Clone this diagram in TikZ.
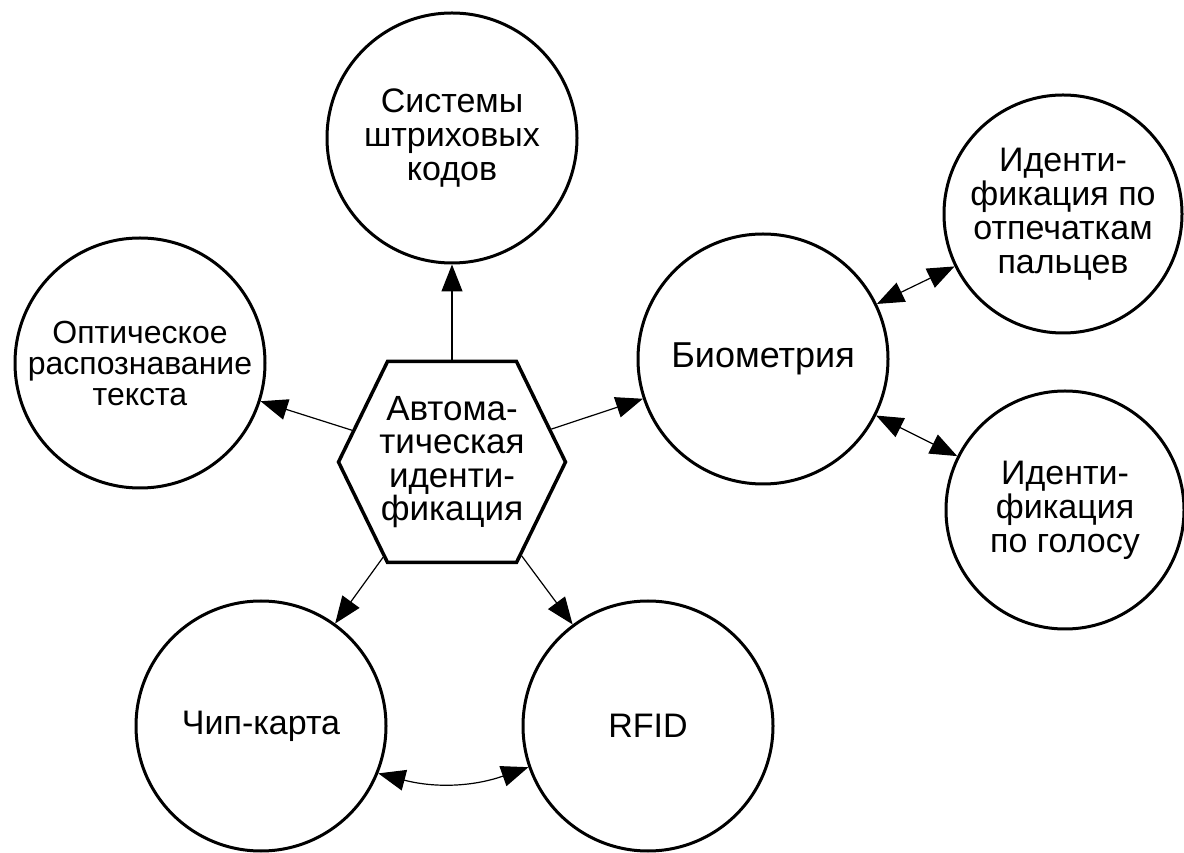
\documentclass[tikz,border=0pt]{standalone}
\usepackage{fontspec}
\setmainfont{Liberation Sans}
\usetikzlibrary{arrows.meta,shapes.symbols}
\tikzstyle{topic}=[circle,draw,line width=3pt,minimum size=250pt,inner sep=0pt,align=center,font=\fontsize{34}{34}\selectfont]
\tikzstyle{small}=[minimum size=238pt]
\tikzstyle{hub}=[signal,signal to=west and east,signal pointer angle=128,draw,line width=3.5pt,minimum width=227pt,minimum height=201pt,inner sep=0pt]
\tikzstyle{hubtext}=[align=center,inner sep=0pt,font=\fontsize{35}{33.5}\selectfont]
\tikzstyle{link}=[line width=1.2pt,-{Triangle[length=27pt,width=21pt]}]
\tikzstyle{twoway}=[line width=1.2pt,{Triangle[length=27pt,width=21pt]}-{Triangle[length=27pt,width=21pt]}]

\begin{document}
\begin{tikzpicture}[x=1pt,y=1pt]
\useasboundingbox (0,0) rectangle (1184,852);
\node [hub,label={[hubtext]center:Автома-\\тическая\\иденти-\\фикация}] (auto) at (452,390) {};
\node [topic] (codes) at (452,714) {Системы\\штриховых\\кодов};
\node [topic,font=\fontsize{32}{31}\selectfont] (ocr) at (140,489) {Оптическое\\распознавание\\текста};
\node [topic,font=\fontsize{36}{34}\selectfont] (bio) at (763,493) {Биометрия};
\node [topic,small] (finger) at (1063,638) {Иденти-\\фикация по\\отпечаткам\\пальцев};
\node [topic,small] (voice) at (1065,342) {Иденти-\\фикация\\по голосу};
\node [topic] (chip) at (261,126) {Чип-карта};
\node [topic] (rfid) at (648,126) {RFID};
\draw [link] (auto) -- (codes);
\draw [link] (auto) -- (ocr);
\draw [link] (auto) -- (bio);
\draw [link] (auto) -- (chip);
\draw [link] (auto) -- (rfid);
\draw [twoway] (bio) -- (finger);
\draw [twoway] (bio) -- (voice);
\draw [twoway] (chip.-22) to[bend right=17] (rfid.199);
\end{tikzpicture}
\end{document}
